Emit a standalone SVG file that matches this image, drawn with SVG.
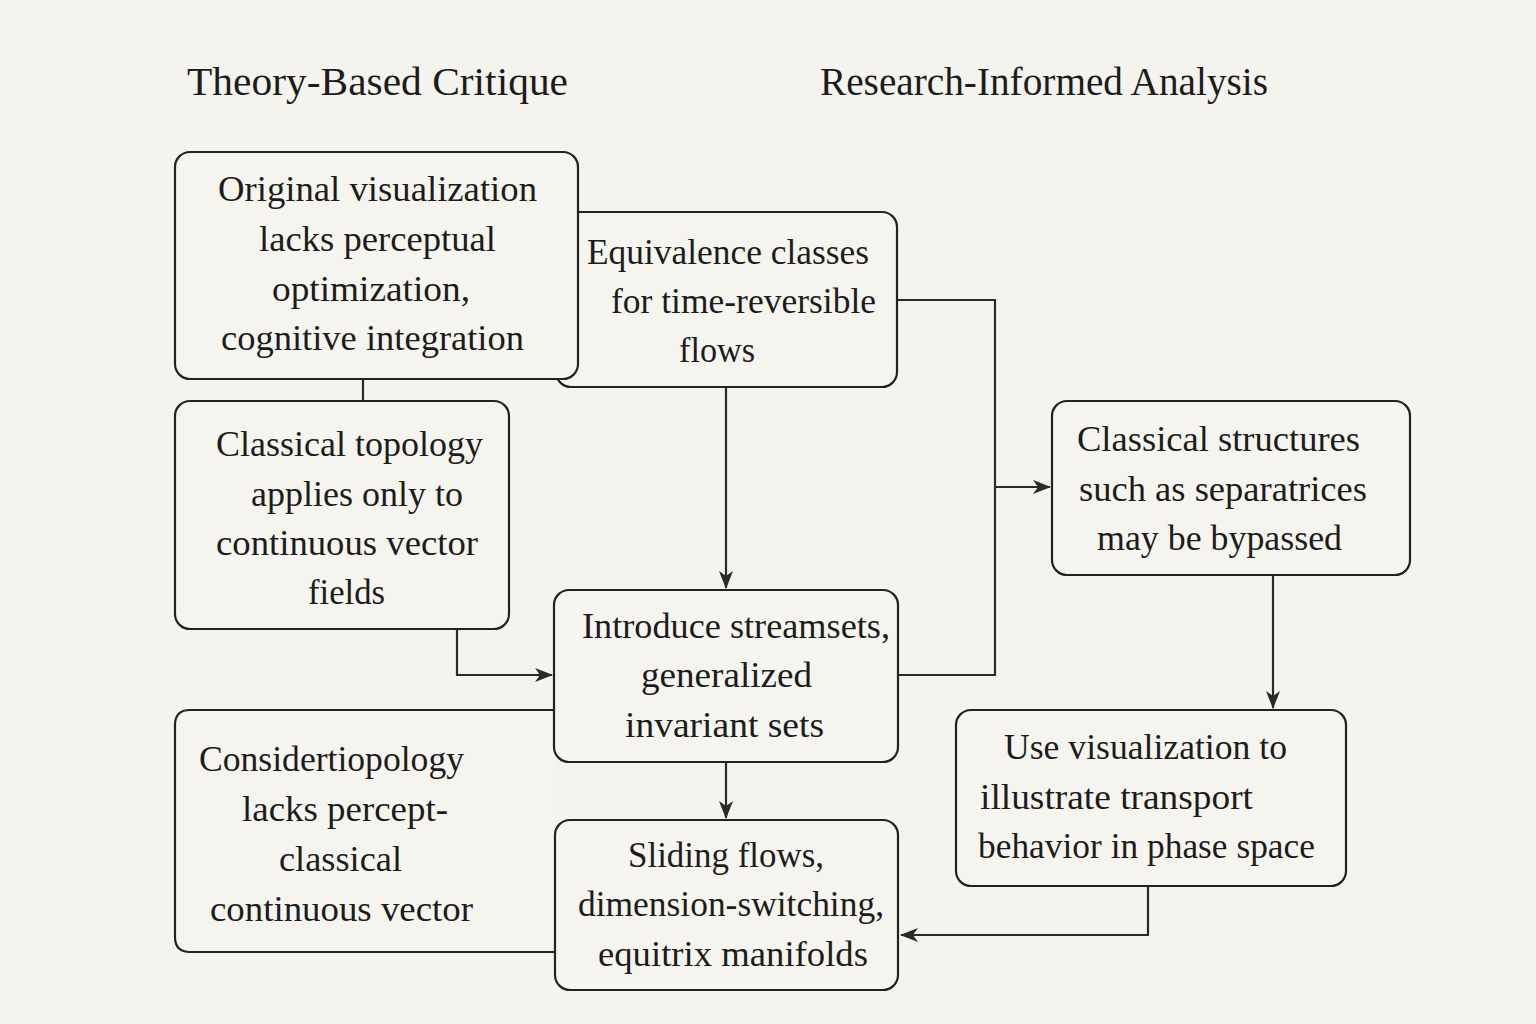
<svg xmlns="http://www.w3.org/2000/svg" width="1536" height="1024" viewBox="0 0 1536 1024">
<defs>
<marker id="arr" markerWidth="18" markerHeight="14" refX="17" refY="7" orient="auto" markerUnits="userSpaceOnUse">
<path d="M0,0 L18,7 L0,14 L5,7 Z" fill="#2a2a2a"/>
</marker>
<style>
.box{fill:#f6f4ef;stroke:#222;stroke-width:2.2}
.t{font-family:"Liberation Serif","DejaVu Serif",serif;font-size:36px;fill:#1c1c1c;text-anchor:middle}
.h{font-family:"Liberation Serif","DejaVu Serif",serif;font-size:39px;fill:#1c1c1c}
.c{fill:none;stroke:#2a2a2a;stroke-width:2.2}
</style>
</defs>
<rect width="1536" height="1024" fill="#f5f3ee"/>
<g id="titles">
<text class="h" x="187" y="95" textLength="381" lengthAdjust="spacingAndGlyphs">Theory-Based Critique</text>
<text class="h" x="820" y="95" textLength="448" lengthAdjust="spacingAndGlyphs">Research-Informed Analysis</text>
</g>
<g id="connectors">
<line class="c" x1="363" y1="379" x2="363" y2="401"/>
<line class="c" x1="726" y1="387" x2="726" y2="588" marker-end="url(#arr)"/>
<polyline class="c" points="457,629 457,675 552,675" marker-end="url(#arr)"/>
<polyline class="c" points="898,675 995,675 995,300 897,300"/>
<line class="c" x1="995" y1="487" x2="1050" y2="487" marker-end="url(#arr)"/>
<line class="c" x1="1273" y1="575" x2="1273" y2="708" marker-end="url(#arr)"/>
<line class="c" x1="726" y1="762" x2="726" y2="818" marker-end="url(#arr)"/>
<polyline class="c" points="1148,886 1148,935 901,935" marker-end="url(#arr)"/>
</g>
<g id="node-g">
<path class="box" d="M556,710 L190,710 Q175,710 175,725 L175,937 Q175,952 190,952 L556,952"/>
<text class="t" x="331.5" y="771" textLength="265" lengthAdjust="spacingAndGlyphs">Considertiopology</text>
<text class="t" x="345" y="821" textLength="206" lengthAdjust="spacingAndGlyphs">lacks percept-</text>
<text class="t" x="340.5" y="871" textLength="123" lengthAdjust="spacingAndGlyphs">classical</text>
<text class="t" x="341.5" y="921" textLength="263" lengthAdjust="spacingAndGlyphs">continuous vector</text>
</g>
<g id="node-b">
<rect class="box" x="556" y="212" width="341" height="175" rx="15"/>
<text class="t" x="728" y="264" textLength="282" lengthAdjust="spacingAndGlyphs">Equivalence classes</text>
<text class="t" x="743.5" y="313" textLength="265" lengthAdjust="spacingAndGlyphs">for time-reversible</text>
<text class="t" x="717" y="362" textLength="76" lengthAdjust="spacingAndGlyphs">flows</text>
</g>
<g id="node-a">
<rect class="box" x="175" y="152" width="403" height="227" rx="15"/>
<text class="t" x="377.5" y="201" textLength="319" lengthAdjust="spacingAndGlyphs">Original visualization</text>
<text class="t" x="377.5" y="251" textLength="237" lengthAdjust="spacingAndGlyphs">lacks perceptual</text>
<text class="t" x="371" y="301" textLength="198" lengthAdjust="spacingAndGlyphs">optimization,</text>
<text class="t" x="372.5" y="350" textLength="303" lengthAdjust="spacingAndGlyphs">cognitive integration</text>
</g>
<g id="node-c">
<rect class="box" x="175" y="401" width="334" height="228" rx="15"/>
<text class="t" x="349.5" y="456" textLength="267" lengthAdjust="spacingAndGlyphs">Classical topology</text>
<text class="t" x="357" y="506" textLength="212" lengthAdjust="spacingAndGlyphs">applies only to</text>
<text class="t" x="347" y="555" textLength="262" lengthAdjust="spacingAndGlyphs">continuous vector</text>
<text class="t" x="346.5" y="604" textLength="77" lengthAdjust="spacingAndGlyphs">fields</text>
</g>
<g id="node-d">
<rect class="box" x="554" y="590" width="344" height="172" rx="15"/>
<text class="t" x="736" y="638" textLength="308" lengthAdjust="spacingAndGlyphs">Introduce streamsets,</text>
<text class="t" x="726.5" y="687" textLength="171" lengthAdjust="spacingAndGlyphs">generalized</text>
<text class="t" x="724.5" y="737" textLength="199" lengthAdjust="spacingAndGlyphs">invariant sets</text>
</g>
<g id="node-h">
<rect class="box" x="555" y="820" width="343" height="170" rx="15"/>
<text class="t" x="726" y="867" textLength="196" lengthAdjust="spacingAndGlyphs">Sliding flows,</text>
<text class="t" x="731" y="916" textLength="306" lengthAdjust="spacingAndGlyphs">dimension-switching,</text>
<text class="t" x="733" y="966" textLength="270" lengthAdjust="spacingAndGlyphs">equitrix manifolds</text>
</g>
<g id="node-e">
<rect class="box" x="1052" y="401" width="358" height="174" rx="15"/>
<text class="t" x="1218.5" y="451" textLength="283" lengthAdjust="spacingAndGlyphs">Classical structures</text>
<text class="t" x="1223" y="501" textLength="288" lengthAdjust="spacingAndGlyphs">such as separatrices</text>
<text class="t" x="1219.5" y="550" textLength="245" lengthAdjust="spacingAndGlyphs">may be bypassed</text>
</g>
<g id="node-f">
<rect class="box" x="956" y="710" width="390" height="176" rx="15"/>
<text class="t" x="1145.5" y="759" textLength="283" lengthAdjust="spacingAndGlyphs">Use visualization to</text>
<text class="t" x="1116.5" y="809" textLength="273" lengthAdjust="spacingAndGlyphs">illustrate transport</text>
<text class="t" x="1146.5" y="858" textLength="337" lengthAdjust="spacingAndGlyphs">behavior in phase space</text>
</g>
</svg>
